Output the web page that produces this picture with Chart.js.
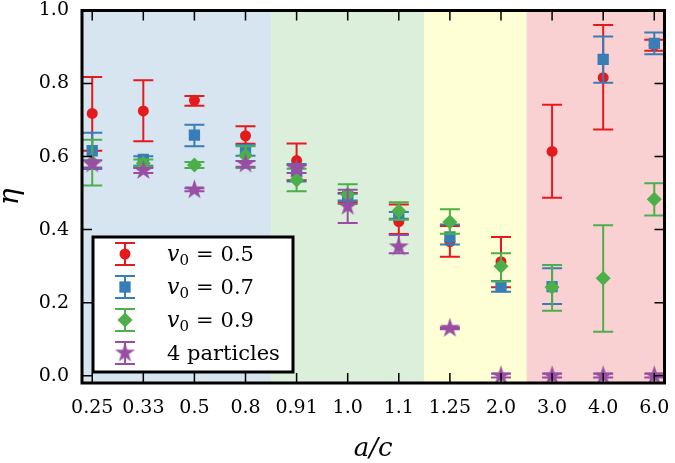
<!doctype html>
<html lang="en">
  <head>
    <meta charset="UTF-8" />
    <title>eta vs a/c</title>
    <style>
      html, body {
        margin: 0;
        padding: 0;
        background: #fff;
      }
      .wrap {
        width: 675px;
        height: 463px;
      }
    </style>
  </head>
  <body>
    <div class="wrap"><canvas id="grafico"></canvas></div>

    <script src="https://cdn.jsdelivr.net/npm/chart.js"></script>
    <script>
      // categorias do eixo x (a/c) e ticks do eixo y
      var categorias = ['0.25', '0.33', '0.5', '0.8', '0.91', '1.0', '1.1', '1.25', '2.0', '3.0', '4.0', '6.0'];
      var yTicks = [0.0, 0.2, 0.4, 0.6, 0.8, 1.0];

      // v0 = 0.5
      var eta05 = [0.718, 0.725, 0.754, 0.657, 0.589, 0.488, 0.422, 0.367, 0.312, 0.614, 0.816, 0.905];
      var lo05  = [0.616, 0.642, 0.739, 0.635, 0.535, 0.475, 0.388, 0.326, 0.242, 0.487, 0.674, 0.890];
      var hi05  = [0.818, 0.809, 0.766, 0.683, 0.636, 0.500, 0.469, 0.410, 0.380, 0.742, 0.960, 0.920];

      // v0 = 0.7
      var eta07 = [0.616, 0.592, 0.659, 0.618, 0.560, 0.490, 0.439, 0.380, 0.244, 0.244, 0.866, 0.910];
      var lo07  = [0.566, 0.575, 0.628, 0.602, 0.532, 0.480, 0.430, 0.359, 0.230, 0.196, 0.802, 0.880];
      var hi07  = [0.665, 0.601, 0.687, 0.632, 0.580, 0.498, 0.448, 0.414, 0.259, 0.294, 0.929, 0.940];

      // v0 = 0.9
      var eta09 = [0.585, 0.582, 0.577, 0.603, 0.536, 0.496, 0.451, 0.421, 0.300, 0.242, 0.267, 0.483];
      var lo09  = [0.521, 0.572, 0.569, 0.569, 0.505, 0.470, 0.427, 0.389, 0.258, 0.178, 0.120, 0.439];
      var hi09  = [0.646, 0.592, 0.585, 0.628, 0.567, 0.524, 0.475, 0.456, 0.335, 0.303, 0.412, 0.527];

      // 4 particles
      var eta4p = [0.580, 0.562, 0.509, 0.580, 0.566, 0.464, 0.353, 0.130, 0.000, 0.000, 0.000, 0.000];
      var lo4p  = [0.570, 0.555, 0.505, 0.572, 0.555, 0.418, 0.335, 0.127, -0.005, -0.005, -0.005, -0.005];
      var hi4p  = [0.590, 0.569, 0.513, 0.588, 0.577, 0.509, 0.385, 0.133, 0.005, 0.005, 0.005, 0.005];

      // faixas coloridas de fundo (indices das categorias)
      var faixas = [[0, 3], [4, 6], [7, 8], [9, 11]];
      var coresFaixas = ['#d7e5f1', '#dbefdb', '#ffffd6', '#fad1d2'];

      var FONTE = "'DejaVu Serif', serif";

      function pontos(v, lo, hi) {
        return v.map(function (val, i) {
          return { x: i, y: val, lo: lo[i], hi: hi[i] };
        });
      }

      // estrela cheia (marcador '*' do matplotlib)
      function estrela(cor, r) {
        var c = document.createElement('canvas');
        var s = Math.ceil(r * 2 + 4);
        c.width = s;
        c.height = s;
        var g = c.getContext('2d');
        g.beginPath();
        for (var k = 0; k < 10; k++) {
          var rr = k % 2 === 0 ? r : r * 0.382;
          var a = -Math.PI / 2 + (k * Math.PI) / 5;
          var px = s / 2 + rr * Math.cos(a);
          var py = s / 2 + rr * Math.sin(a);
          if (k === 0) g.moveTo(px, py);
          else g.lineTo(px, py);
        }
        g.closePath();
        g.fillStyle = cor;
        g.fill();
        return c;
      }

      var imgEstrela = estrela('#984ea3', 10.5);

      // barras de erro desenhadas antes de cada conjunto
      var barrasErro = {
        id: 'barrasErro',
        beforeDatasetDraw: function (chart, args) {
          var ds = chart.data.datasets[args.index];
          var sx = chart.scales.x, sy = chart.scales.y, ctx = chart.ctx, a = chart.chartArea;
          ctx.save();
          ctx.beginPath();
          ctx.rect(a.left, a.top, a.right - a.left, a.bottom - a.top);
          ctx.clip();
          ctx.strokeStyle = ds.borderColor;
          ctx.lineWidth = 2;
          ds.data.forEach(function (p) {
            var px = sx.getPixelForValue(p.x);
            var pLo = sy.getPixelForValue(p.lo);
            var pHi = sy.getPixelForValue(p.hi);
            ctx.beginPath();
            ctx.moveTo(px, pLo);
            ctx.lineTo(px, pHi);
            ctx.moveTo(px - 10, pLo);
            ctx.lineTo(px + 10, pLo);
            ctx.moveTo(px - 10, pHi);
            ctx.lineTo(px + 10, pHi);
            ctx.stroke();
          });
          ctx.restore();
        }
      };

      // fundo com faixas
      var fundo = {
        id: 'fundo',
        beforeDatasetsDraw: function (chart) {
          var sx = chart.scales.x, ctx = chart.ctx, a = chart.chartArea;
          ctx.save();
          faixas.forEach(function (f, i) {
            var x0 = Math.max(a.left, sx.getPixelForValue(f[0] - 0.5));
            var x1 = Math.min(a.right, sx.getPixelForValue(f[1] + 0.5));
            ctx.fillStyle = coresFaixas[i];
            ctx.fillRect(x0, a.top, x1 - x0, a.bottom - a.top);
          });
          ctx.restore();
        }
      };

      // moldura e ticks para dentro nos quatro lados
      var moldura = {
        id: 'moldura',
        afterDatasetsDraw: function (chart) {
          var sx = chart.scales.x, sy = chart.scales.y, ctx = chart.ctx, a = chart.chartArea;
          var t = 10;
          ctx.save();
          ctx.strokeStyle = '#000';
          ctx.lineWidth = 1.5;
          ctx.beginPath();
          sx.ticks.forEach(function (tk) {
            var px = sx.getPixelForValue(tk.value);
            ctx.moveTo(px, a.bottom);
            ctx.lineTo(px, a.bottom - t);
            ctx.moveTo(px, a.top);
            ctx.lineTo(px, a.top + t);
          });
          sy.ticks.forEach(function (tk) {
            var py = sy.getPixelForValue(tk.value);
            ctx.moveTo(a.left, py);
            ctx.lineTo(a.left + t, py);
            ctx.moveTo(a.right, py);
            ctx.lineTo(a.right - t, py);
          });
          ctx.stroke();
          ctx.lineWidth = 3;
          ctx.strokeRect(a.left, a.top, a.right - a.left, a.bottom - a.top);
          ctx.restore();
        }
      };

      // legenda com simbolos de barra de erro
      var legenda = {
        id: 'legenda',
        afterDraw: function (chart) {
          var ctx = chart.ctx;
          var bx = 93, by = 237, bw = 200, bh = 135;
          ctx.save();
          ctx.fillStyle = '#fff';
          ctx.fillRect(bx, by, bw, bh);
          ctx.strokeStyle = '#000';
          ctx.lineWidth = 3;
          ctx.strokeRect(bx, by, bw, bh);
          chart.data.datasets.forEach(function (ds, i) {
            var cy = 254 + i * 33;
            var cx = 125;
            ctx.strokeStyle = ds.borderColor;
            ctx.lineWidth = 2;
            ctx.beginPath();
            ctx.moveTo(cx, cy - 11);
            ctx.lineTo(cx, cy + 11);
            ctx.moveTo(cx - 10, cy - 11);
            ctx.lineTo(cx + 10, cy - 11);
            ctx.moveTo(cx - 10, cy + 11);
            ctx.lineTo(cx + 10, cy + 11);
            ctx.stroke();
            ctx.fillStyle = ds.backgroundColor;
            var st = ds.pointStyle, r = ds.pointRadius;
            if (st === 'circle') {
              ctx.beginPath();
              ctx.arc(cx, cy, r, 0, Math.PI * 2);
              ctx.fill();
            } else if (st === 'rect') {
              var h = r * Math.SQRT1_2;
              ctx.fillRect(cx - h, cy - h, 2 * h, 2 * h);
            } else if (st === 'rectRot') {
              ctx.beginPath();
              ctx.moveTo(cx, cy - r);
              ctx.lineTo(cx + r, cy);
              ctx.lineTo(cx, cy + r);
              ctx.lineTo(cx - r, cy);
              ctx.closePath();
              ctx.fill();
            } else {
              ctx.drawImage(st, cx - st.width / 2, cy - st.height / 2);
            }
            // texto
            ctx.fillStyle = '#000';
            ctx.textBaseline = 'alphabetic';
            var tx = 167, base = cy + 7;
            var m = /^v0 = (.*)$/.exec(ds.label);
            if (m) {
              ctx.font = 'italic 22px ' + FONTE;
              ctx.fillText('v', tx, base);
              tx += ctx.measureText('v').width;
              ctx.font = '15px ' + FONTE;
              ctx.fillText('0', tx, base + 4);
              tx += ctx.measureText('0').width + 7;
              ctx.font = '21px ' + FONTE;
              ctx.fillText('=', tx, base);
              tx += ctx.measureText('=').width + 7;
              ctx.fillText(m[1], tx, base);
            } else {
              ctx.font = '21px ' + FONTE;
              ctx.fillText(ds.label, tx, base);
            }
          });
          ctx.restore();
        }
      };

      var ctx = document.getElementById('grafico').getContext('2d');
      var grafico = new Chart(ctx, {
        type: 'scatter',
        data: {
          datasets: [
            {
              label: 'v0 = 0.5',
              data: pontos(eta05, lo05, hi05),
              borderColor: '#e41a1c',
              backgroundColor: '#e41a1c',
              pointStyle: 'circle',
              pointRadius: 5.5,
              pointBorderWidth: 0,
              clip: 0,
              order: 4
            },
            {
              label: 'v0 = 0.7',
              data: pontos(eta07, lo07, hi07),
              borderColor: '#377eb8',
              backgroundColor: '#377eb8',
              pointStyle: 'rect',
              pointRadius: 8,
              pointBorderWidth: 0,
              clip: 0,
              order: 3
            },
            {
              label: 'v0 = 0.9',
              data: pontos(eta09, lo09, hi09),
              borderColor: '#4daf4a',
              backgroundColor: '#4daf4a',
              pointStyle: 'rectRot',
              pointRadius: 7.5,
              pointBorderWidth: 0,
              clip: 0,
              order: 2
            },
            {
              label: '4 particles',
              data: pontos(eta4p, lo4p, hi4p),
              borderColor: '#984ea3',
              backgroundColor: '#984ea3',
              pointStyle: imgEstrela,
              pointRadius: 10.5,
              pointBorderWidth: 0,
              clip: 0,
              order: 1
            }
          ]
        },
        options: {
          responsive: true,
          maintainAspectRatio: false,
          animation: false,
          layout: { padding: { top: 9, right: 7, left: 0, bottom: 0 } },
          plugins: {
            legend: { display: false },
            tooltip: { enabled: false }
          },
          scales: {
            x: {
              type: 'linear',
              min: -0.2,
              max: 11.2,
              afterBuildTicks: function (scale) {
                scale.ticks = categorias.map(function (c, i) { return { value: i }; });
              },
              afterFit: function (scale) {
                scale.height = 80;
                scale.paddingLeft = 0;
                scale.paddingRight = 0;
              },
              grid: { display: false, drawTicks: false },
              border: { display: false },
              ticks: {
                autoSkip: false,
                maxRotation: 0,
                padding: 14,
                color: '#000',
                font: { family: FONTE, size: 19 },
                callback: function (v) { return categorias[v]; }
              },
              title: {
                display: true,
                text: 'a/c',
                color: '#000',
                font: { family: FONTE, size: 26, style: 'italic', lineHeight: 1 },
                padding: { top: 0, bottom: 1 }
              }
            },
            y: {
              min: -0.02,
              max: 1.0,
              afterBuildTicks: function (scale) {
                scale.ticks = yTicks.map(function (v) { return { value: v }; });
              },
              afterFit: function (scale) {
                scale.width = 82;
                scale.paddingTop = 0;
                scale.paddingBottom = 0;
              },
              grid: { display: false, drawTicks: false },
              border: { display: false },
              ticks: {
                padding: 13,
                color: '#000',
                font: { family: FONTE, size: 19 },
                callback: function (v) { return v.toFixed(1); }
              },
              title: {
                display: true,
                text: 'η',
                color: '#000',
                font: { family: FONTE, size: 28, style: 'italic', lineHeight: 1 },
                padding: { top: -3, bottom: 0 }
              }
            }
          }
        },
        plugins: [fundo, barrasErro, moldura, legenda]
      });
    </script>
  </body>
</html>
